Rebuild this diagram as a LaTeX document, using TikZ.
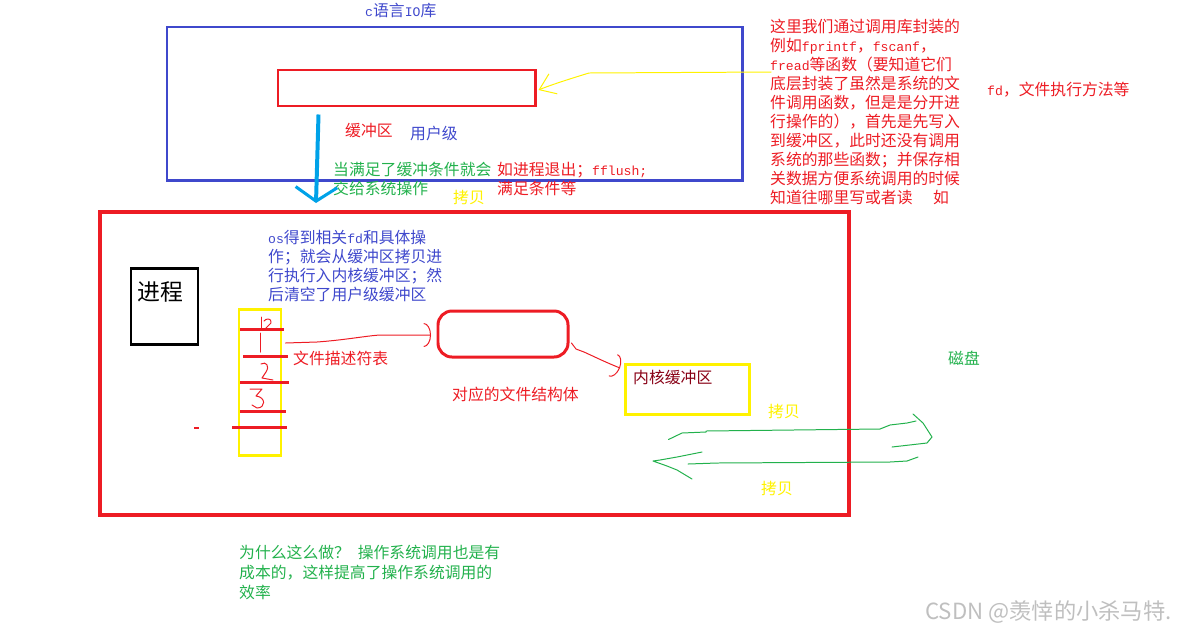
\documentclass[tikz,border=0pt]{standalone}
\usepackage{fontspec}
\setmainfont{Noto Sans CJK SC}
\newfontfamily\latmono[Scale=0.83]{Liberation Mono}
\newcommand{\lat}[1]{{\latmono #1}}
\usetikzlibrary{arrows.meta, positioning, calc, fit}
\definecolor{penred}{RGB}{237,28,36}
\definecolor{penblue}{RGB}{63,72,204}
\definecolor{penyellow}{RGB}{255,242,0}
\definecolor{pencyan}{RGB}{0,162,232}
\definecolor{pengreen}{RGB}{34,177,76}
\definecolor{pendarkred}{RGB}{136,0,21}
\tikzset{
  sk box/.style={
    rectangle, inner sep=0pt, line width=2.55pt
  },
  sk text/.style={
    inner sep=0pt, anchor=north west, align=left,
    font=\fontsize{13.5}{16.2}\selectfont
  },
  sk pen/.style={
    line width=0.85pt, line cap=round, line join=round
  },
  sk thick/.style={
    line width=2.55pt
  }
}

\begin{document}
\begin{tikzpicture}[x=0.03cm, y=-0.03cm]
  \useasboundingbox (0,0) rectangle (1179,632);
  % Boxes: library, buffer, process, kernel side
  \node (libbox) [sk box, draw=penblue, fit={(167,27) (742,180)}] {};
  \node (buffer) [sk box, draw=penred, fit={(278,70) (535,106)}] {};
  \node (kernelbox) [sk box, draw=penred, line width=3.4pt, fit={(100,212) (849,515)}] {};
  \node (procbox) [sk box, draw=black, fit={(131,268) (198,344)}] {};
  \node (fdtable) [sk box, draw=penyellow, fit={(239,309) (281,455)}] {};
  \node (filestruct) [sk box, draw=penred, rounded corners=0.42cm, fit={(438,311) (568,357)}] {};
  \node (kbuf) [sk box, draw=penyellow, fit={(625,364) (749,414)}] {};

  % Labels in the library box
  \node (libtitle) [sk text, text=penblue] at (365,3) {\lat{c}语言\lat{IO}库};
  \node (buflabel) [sk text, text=penred] at (345,123) {缓冲区};
  \node (userlabel) [sk text, text=penblue] at (410,126) {用户级};
  \node (flushnote) [sk text, text=pengreen] at (333,162) {当满足了缓冲条件就会\\交给系统操作};
  \node (flushcase) [sk text, text=penred] at (497,162) {如进程退出；\lat{fflush;}\\满足条件等};
  \node (copyup) [sk text, text=penyellow] at (453,190) {拷贝};
  \node (libnote) [sk text, text=penred] at (770,19) {这里我们通过调用库封装的\\例如\lat{fprintf}，\lat{fscanf}，\\\lat{fread}等函数（要知道它们\\底层封装了虽然是系统的文\\件调用函数，但是是分开进\\行操作的），首先是先写入\\到缓冲区，此时还没有调用\\系统的那些函数；并保存相\\关数据方便系统调用的时候\\知道往哪里写或者读\hspace{1.3em}如};
  \node (fdnote) [sk text, text=penred] at (987,82) {\lat{fd}，文件执行方法等};

  % Labels in the kernel box
  \node (osnote) [sk text, text=penblue] at (268,230) {\lat{os}得到相关\lat{fd}和具体操\\作；就会从缓冲区拷贝进\\行执行入内核缓冲区；然\\后清空了用户级缓冲区};
  \node (proclabel) [sk text, font=\fontsize{19.5}{22}\selectfont] at (137,281) {进程};
  \node (fdlabel) [sk text, text=penred] at (293,351) {文件描述符表};
  \node (structlabel) [sk text, text=penred] at (452,387) {对应的文件结构体};
  \node (kbuflabel) [sk text, text=pendarkred] at (633,370) {内核缓冲区};
  \node (copyin) [sk text, text=penyellow] at (768,404) {拷贝};
  \node (copyout) [sk text, text=penyellow] at (761,481) {拷贝};
  \node (disk) [sk text, text=pengreen] at (948,351) {磁盘};
  \node (whynote) [sk text, text=pengreen, font=\fontsize{13.5}{17}\selectfont] at (239,545) {为什么这么做？\hspace{0.5em}操作系统调用也是有\\成本的，这样提高了操作系统调用的\\效率};
  \node (watermark) [sk text, text=black!25, font=\fontsize{19}{22}\selectfont] at (925,600) {CSDN @羡悻的小杀马特.};

  % fd table rows and numbers
  \foreach \ya/\xa/\xb in {329/240/284, 356/243/288, 382/240/289, 411/240/286, 427/232/287}
    \draw [penred, sk thick] (\xa,\ya) -- (\xb,\ya);
  \draw [penred, sk pen] (261,317) -- (261,329);
  \draw [penred, sk pen] (264,321) .. controls (266,318) and (272,318) .. (271,323) -- (265,329) -- (273,329);
  \draw [penred, sk pen] (260,333) -- (260,352);
  \draw [penred, sk pen] (261,364) .. controls (266,361) and (270,366) .. (266,372) -- (262,378) -- (273,380);
  \draw [penred, sk pen] (250,389) -- (262,389) -- (256,396) .. controls (266,397) and (266,408) .. (257,408) -- (252,405);
  \fill [penred] (194,427) rectangle (199,429);

  % Connectors
  \coordinate (blueTip) at (316,203);
  \coordinate (noteHook) at (771,72);
  \coordinate (diskIn) at (932,437);
  \coordinate (kbufIn) at (653,461);
  \draw [pencyan, line width=3.4pt, -{Straight Barb[length=0.42cm, width=1.25cm, line width=2.6pt]}]
    ($(buffer.south west)+(42,7)$) -- (blueTip);
  \draw [penyellow, sk pen, -{Straight Barb[length=0.45cm, width=0.65cm]}]
    (noteHook) -- (589,73) .. controls (566,80) and (548,86) .. ($(buffer.east)+(2,2)$);
  \draw [penred, sk pen, -{Arc Barb[length=0.22cm, width=0.72cm]}]
    ($(fdtable.east)+(3,-39)$) -- (317,342) .. controls (345,340) and (365,336) .. (380,335) -- (431,335);
  \draw [penred, sk pen, -{Arc Barb[length=0.22cm, width=0.72cm]}]
    ($(filestruct.east)+(2,9)$) -- (576,349) -- (584,352) .. controls (595,357) and (605,362) .. (620,368);
  \draw [pengreen, sk pen]
    ($(kbuf.south west)+(45,24)$) -- (682,433) -- (706,432) -- (706,431) -- (880,429) -- (890,425) -- (907,423) -- (916,421);
  \draw [pengreen, sk pen] (913,414) -- (923,423) -- (diskIn) -- (927,443) -- (892,447);
  \draw [pengreen, sk pen]
    (918,457) -- (907,461) -- (890,462) -- (717,463) -- (688,464);
  \draw [pengreen, sk pen] (702,452) -- (677,457) -- (660,460) -- (kbufIn) -- (667,466) -- (677,470) -- (692,479);
\end{tikzpicture}
\end{document}
